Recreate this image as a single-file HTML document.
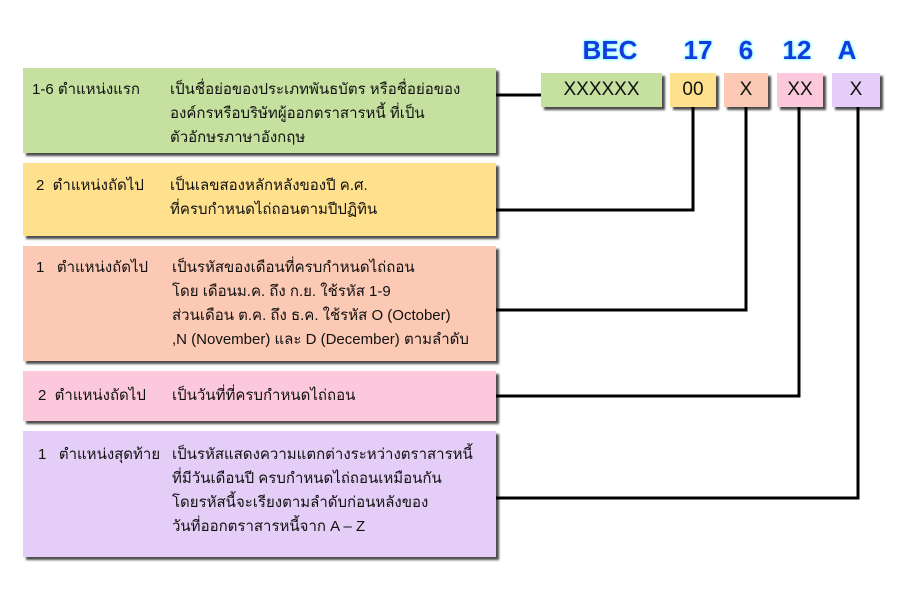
<!DOCTYPE html>
<html><head><meta charset="utf-8"><style>
body{margin:0;width:900px;height:600px;background:#fff;position:relative;overflow:hidden;font-family:"Liberation Sans","DejaVu Sans",sans-serif;}
.b{position:absolute;box-shadow:3px 3px 2px rgba(0,0,0,.7);}
.t{position:absolute;font-size:15px;color:#111;line-height:24px;}
.k{position:absolute;text-align:center;font-size:19px;color:#111;}
.h{position:absolute;font-weight:bold;font-size:26px;color:#1838e0;text-shadow:0 0 3px #6ff,0 0 2px #6ff;text-align:center;}
</style></head><body>
<svg width="900" height="600" style="position:absolute;left:0;top:0">
<g stroke="#000" stroke-width="3" fill="none">
<line x1="496" y1="95" x2="541" y2="95"/>
<polyline points="693,107 693,210 496,210"/>
<polyline points="746,107 746,310 496,310"/>
<polyline points="799,107 799,396 496,396"/>
<polyline points="858,107 858,498 496,498"/>
</g></svg>
<div class="b" style="left:23px;top:68px;width:473px;height:85px;background:#c6e0a0"></div>
<div class="b" style="left:23px;top:163px;width:473px;height:73px;background:#ffe08c"></div>
<div class="b" style="left:23px;top:246px;width:473px;height:115px;background:#fcc9b4"></div>
<div class="b" style="left:23px;top:371px;width:473px;height:50px;background:#fcc9dc"></div>
<div class="b" style="left:23px;top:431px;width:473px;height:126px;background:#e4cdf6"></div>
<div class="t" style="left:32px;top:78px">1-6 ตำแหน่งแรก</div>
<div class="t" style="left:170px;top:78px">เป็นชื่อย่อของประเภทพันธบัตร หรือชื่อย่อของ<br>องค์กรหรือบริษัทผู้ออกตราสารหนี้ ที่เป็น<br>ตัวอักษรภาษาอังกฤษ</div>
<div class="t" style="left:36px;top:174px">2&nbsp; ตำแหน่งถัดไป</div>
<div class="t" style="left:170px;top:174px">เป็นเลขสองหลักหลังของปี ค.ศ.<br>ที่ครบกำหนดไถ่ถอนตามปีปฏิทิน</div>
<div class="t" style="left:36px;top:256px">1&nbsp;&nbsp; ตำแหน่งถัดไป</div>
<div class="t" style="left:172px;top:256px">เป็นรหัสของเดือนที่ครบกำหนดไถ่ถอน<br>โดย เดือนม.ค. ถึง ก.ย. ใช้รหัส 1-9<br>ส่วนเดือน ต.ค. ถึง ธ.ค. ใช้รหัส O (October)<br>,N (November) และ D (December) ตามลำดับ</div>
<div class="t" style="left:38px;top:384px">2&nbsp; ตำแหน่งถัดไป</div>
<div class="t" style="left:172px;top:384px">เป็นวันที่ที่ครบกำหนดไถ่ถอน</div>
<div class="t" style="left:38px;top:443px">1&nbsp;&nbsp; ตำแหน่งสุดท้าย</div>
<div class="t" style="left:172px;top:443px">เป็นรหัสแสดงความแตกต่างระหว่างตราสารหนี้<br>ที่มีวันเดือนปี ครบกำหนดไถ่ถอนเหมือนกัน<br>โดยรหัสนี้จะเรียงตามลำดับก่อนหลังของ<br>วันที่ออกตราสารหนี้จาก A – Z</div>
<div class="b" style="left:541px;top:73px;width:121px;height:34px;background:#c6e0a0"></div>
<div class="b" style="left:670px;top:73px;width:46px;height:34px;background:#ffe08c"></div>
<div class="b" style="left:724px;top:73px;width:44px;height:34px;background:#fcc9b4"></div>
<div class="b" style="left:777px;top:73px;width:46px;height:34px;background:#fcc9dc"></div>
<div class="b" style="left:832px;top:73px;width:48px;height:34px;background:#e4cdf6"></div>
<div class="k" style="left:541px;top:79px;width:121px">XXXXXX</div>
<div class="k" style="left:670px;top:79px;width:46px">00</div>
<div class="k" style="left:724px;top:79px;width:44px">X</div>
<div class="k" style="left:777px;top:79px;width:46px">XX</div>
<div class="k" style="left:832px;top:79px;width:48px">X</div>
<div class="h" style="left:570px;top:35px;width:80px">BEC</div>
<div class="h" style="left:678px;top:35px;width:40px">17</div>
<div class="h" style="left:728px;top:35px;width:36px">6</div>
<div class="h" style="left:777px;top:35px;width:40px">12</div>
<div class="h" style="left:829px;top:35px;width:36px">A</div>
</body></html>
